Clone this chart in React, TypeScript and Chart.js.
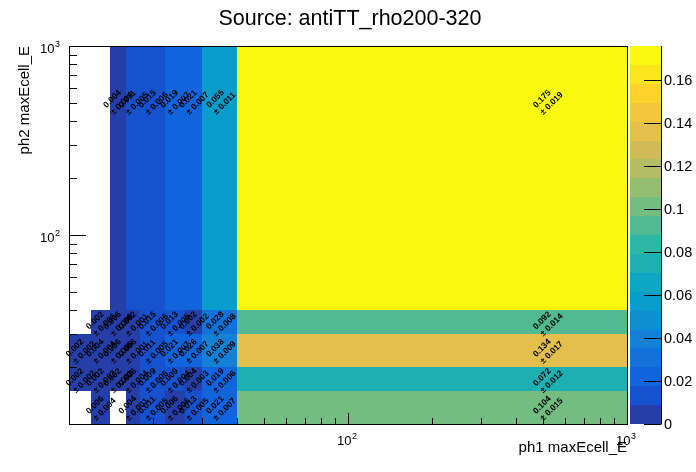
import React, { useEffect, useRef } from "react";
import { Chart, registerables } from "chart.js";

Chart.register(...registerables);

// ---- data ----
const titleText = "Source: antiTT_rho200-320";
const xTitle = "ph1 maxEcell_E";
const yTitle = "ph2 maxEcell_E";
const xEdges = [10, 12, 14, 16, 18, 22, 26, 30, 40, 1000];
const yEdges = [10, 15, 20, 30, 40, 1000];
// rows from bottom (y 10-15) to top (y 40-1000); columns follow xEdges
const val10to15 = [0, 0.006, 0, 0.004, 0.011, 0.006, 0.013, 0.021, 0.104];
const err10to15 = [0, 0.004, 0, 0.001, 0.005, 0.006, 0.005, 0.007, 0.015];
const val15to20 = [0.002, 0.002, 0.002, 0.006, 0.009, 0.009, 0.004, 0.019, 0.072];
const err15to20 = [0.002, 0.002, 0.002, 0.004, 0.006, 0.004, 0.003, 0.006, 0.012];
const val20to30 = [0.002, 0.004, 0.006, 0.006, 0.011, 0.021, 0.026, 0.038, 0.134];
const err20to30 = [0.002, 0.004, 0.006, 0.001, 0.005, 0.007, 0.007, 0.009, 0.017];
const val30to40 = [0, 0.002, 0.006, 0.002, 0.015, 0.013, 0.002, 0.028, 0.092];
const err30to40 = [0, 0.006, 0.006, 0.001, 0.006, 0.005, 0.002, 0.008, 0.014];
const val40to1000 = [0, 0, 0.004, 0.011, 0.015, 0.019, 0.021, 0.055, 0.175];
const err40to1000 = [0, 0, 0.004, 0.005, 0.006, 0.007, 0.007, 0.011, 0.019];
const values = [val10to15, val15to20, val20to30, val30to40, val40to1000];
const errors = [err10to15, err15to20, err20to30, err30to40, err40to1000];
const zMax = 0.176;
const nLevels = 20;
const zTicks = [0, 0.02, 0.04, 0.06, 0.08, 0.1, 0.12, 0.14, 0.16];
const xMajor = [10, 100, 1000];
const yMajor = [10, 100, 1000];

// ---- ROOT kBird palette ----
const birdStops = [0.0, 0.125, 0.25, 0.375, 0.5, 0.625, 0.75, 0.875, 1.0];
const birdR = [0.2082, 0.0592, 0.078, 0.0232, 0.1802, 0.5301, 0.8186, 0.9956, 0.9764];
const birdG = [0.1664, 0.3599, 0.5041, 0.6419, 0.7178, 0.7492, 0.7328, 0.7862, 0.9832];
const birdB = [0.5293, 0.8684, 0.8385, 0.7914, 0.6425, 0.4662, 0.3499, 0.1968, 0.0539];

function buildPalette(n: number): string[] {
  const pal: string[] = [];
  for (let g = 1; g < birdStops.length; g++) {
    const nc = Math.floor(n * birdStops[g]) - Math.floor(n * birdStops[g - 1]);
    for (let c = 0; c < nc; c++) {
      const r = birdR[g - 1] + (c * (birdR[g] - birdR[g - 1])) / nc;
      const gg = birdG[g - 1] + (c * (birdG[g] - birdG[g - 1])) / nc;
      const b = birdB[g - 1] + (c * (birdB[g] - birdB[g - 1])) / nc;
      pal.push(`rgb(${Math.round(r * 255)},${Math.round(gg * 255)},${Math.round(b * 255)})`);
    }
  }
  return pal;
}
const palette = buildPalette(255);
const levelColor = (i: number) =>
  palette[Math.min(palette.length - 1, Math.floor(((i + 0.99) * palette.length) / nLevels))];
const zLevel = (z: number) => Math.min(nLevels - 1, Math.floor((z / zMax) * nLevels));

const FONT = "'Liberation Sans', Arial, Helvetica, sans-serif";

function drawPow(ctx: CanvasRenderingContext2D, exp: string, x: number, baseline: number, align: "center" | "right") {
  ctx.font = `13px ${FONT}`;
  const w10 = ctx.measureText("10").width;
  ctx.font = `9px ${FONT}`;
  const wE = ctx.measureText(exp).width;
  const total = w10 + wE + 0.5;
  const left = align === "center" ? x - total / 2 : x - total;
  ctx.textAlign = "left";
  ctx.textBaseline = "alphabetic";
  ctx.font = `13px ${FONT}`;
  ctx.fillText("10", left, baseline);
  ctx.font = `9px ${FONT}`;
  ctx.fillText(exp, left + w10 + 0.5, baseline - 6.5);
}

const heatPlugin = {
  id: "rootHeat",
  beforeDatasetsDraw(chart: any) {
    const { ctx, scales } = chart;
    const xs = scales.x;
    const ys = scales.y;
    ctx.save();
    for (let r = 0; r < values.length; r++) {
      for (let c = 0; c < values[r].length; c++) {
        const v = values[r][c];
        if (v <= 0) continue;
        const x0 = Math.round(xs.getPixelForValue(xEdges[c]));
        const x1 = Math.round(xs.getPixelForValue(xEdges[c + 1]));
        const y0 = Math.round(ys.getPixelForValue(yEdges[r]));
        const y1 = Math.round(ys.getPixelForValue(yEdges[r + 1]));
        ctx.fillStyle = levelColor(zLevel(v));
        ctx.fillRect(x0, y1, x1 - x0, y0 - y1);
      }
    }
    ctx.restore();
  },
  afterDraw(chart: any) {
    const { ctx, scales, chartArea } = chart;
    const xs = scales.x;
    const ys = scales.y;
    const zs = scales.z;
    const { left, right, top, bottom } = chartArea;
    ctx.save();

    // cell texts
    ctx.fillStyle = "#000";
    ctx.font = `bold 8.5px ${FONT}`;
    for (let r = 0; r < values.length; r++) {
      for (let c = 0; c < values[r].length; c++) {
        const v = values[r][c];
        if (v <= 0) continue;
        const cx = xs.getPixelForValue((xEdges[c] + xEdges[c + 1]) / 2);
        const cy = ys.getPixelForValue((yEdges[r] + yEdges[r + 1]) / 2);
        const l1 = v.toFixed(3);
        const l2 = "\u00b1 " + errors[r][c].toFixed(3);
        const w = Math.max(ctx.measureText(l1).width, ctx.measureText(l2).width);
        ctx.save();
        ctx.translate(cx, cy);
        ctx.rotate(-Math.PI / 4);
        ctx.textAlign = "left";
        ctx.textBaseline = "middle";
        ctx.fillText(l1, -w / 2, -4.5);
        ctx.fillText(l2, -w / 2, 5.5);
        ctx.restore();
      }
    }

    // frame
    ctx.strokeStyle = "#000";
    ctx.lineWidth = 1;
    ctx.strokeRect(Math.round(left) + 0.5, Math.round(top) + 0.5, Math.round(right - left), Math.round(bottom - top));

    // x ticks
    ctx.beginPath();
    for (let d = 10; d < 1000; d *= 10) {
      for (let k = 1; k <= 10; k++) {
        const v = d * k;
        if (v > 1000) break;
        const px = Math.round(xs.getPixelForValue(v)) + 0.5;
        const len = k === 1 || k === 10 ? 11 : 6;
        ctx.moveTo(px, bottom);
        ctx.lineTo(px, bottom - len);
      }
    }
    // y ticks
    for (let d = 10; d < 1000; d *= 10) {
      for (let k = 1; k <= 10; k++) {
        const v = d * k;
        if (v > 1000) break;
        const py = Math.round(ys.getPixelForValue(v)) + 0.5;
        const len = k === 1 || k === 10 ? 17 : 8;
        ctx.moveTo(left, py);
        ctx.lineTo(left + len, py);
      }
    }
    ctx.stroke();

    // axis labels
    ctx.fillStyle = "#000";
    for (const m of xMajor) {
      if (m === 10) continue;
      const px = xs.getPixelForValue(m);
      drawPow(ctx, String(Math.round(Math.log10(m))), px - 1, bottom + 21, "center");
    }
    for (const m of yMajor) {
      if (m === 10) continue;
      const py = ys.getPixelForValue(m);
      drawPow(ctx, String(Math.round(Math.log10(m))), left - 9, py + 7, "right");
    }

    // axis titles
    ctx.font = `15px ${FONT}`;
    ctx.textAlign = "right";
    ctx.textBaseline = "alphabetic";
    ctx.fillText(xTitle, right, bottom + 28);
    ctx.save();
    ctx.translate(29, top);
    ctx.rotate(-Math.PI / 2);
    ctx.textAlign = "right";
    ctx.fillText(yTitle, 0, 0);
    ctx.restore();

    // colour bar
    const cbL = right + 3;
    const cbR = right + 34;
    for (let i = 0; i < nLevels; i++) {
      const ya = Math.round(zs.getPixelForValue((i * zMax) / nLevels));
      const yb = Math.round(zs.getPixelForValue(((i + 1) * zMax) / nLevels));
      ctx.fillStyle = levelColor(i);
      ctx.fillRect(cbL, yb, cbR - cbL, ya - yb);
    }
    ctx.beginPath();
    ctx.moveTo(cbR + 0.5, top);
    ctx.lineTo(cbR + 0.5, bottom + 0.5);
    for (const t of zTicks) {
      const py = Math.round(zs.getPixelForValue(t)) + 0.5;
      ctx.moveTo(cbR, py);
      ctx.lineTo(cbR - 17, py);
    }
    ctx.strokeStyle = "#000";
    ctx.stroke();
    ctx.fillStyle = "#000";
    ctx.font = `14.5px ${FONT}`;
    ctx.textAlign = "left";
    ctx.textBaseline = "middle";
    for (const t of zTicks) {
      const py = zs.getPixelForValue(t);
      ctx.fillText(String(t), cbR + 3, py + 1);
    }

    // title
    ctx.font = `21.5px ${FONT}`;
    ctx.textAlign = "center";
    ctx.textBaseline = "alphabetic";
    ctx.fillText(titleText, 350, 25);

    ctx.restore();
  },
};

export default function App() {
  const ref = useRef<HTMLCanvasElement | null>(null);
  useEffect(() => {
    document.body.style.margin = "0";
    const canvas = ref.current;
    if (!canvas) return;
    const chart = new Chart(canvas, {
      type: "scatter",
      data: { datasets: [{ data: [] }] },
      options: {
        responsive: false,
        animation: false,
        devicePixelRatio: 1,
        layout: { padding: { top: 46, right: 69, left: 0, bottom: 0 } },
        plugins: {
          legend: { display: false },
          tooltip: { enabled: false },
          title: { display: false },
        },
        scales: {
          x: {
            type: "logarithmic",
            min: 10,
            max: 1000,
            grid: { display: false },
            border: { display: false },
            ticks: { display: false },
            afterFit: (s: any) => {
              s.height = 48;
            },
          },
          y: {
            type: "logarithmic",
            min: 10,
            max: 1000,
            grid: { display: false },
            border: { display: false },
            ticks: { display: false },
            afterFit: (s: any) => {
              s.width = 69;
            },
          },
          z: {
            type: "linear",
            position: "right",
            min: 0,
            max: zMax,
            display: false,
          },
        },
      } as any,
      plugins: [heatPlugin],
    });
    return () => chart.destroy();
  }, []);
  return (
    <div style={{ width: 696, height: 472, background: "#fff" }}>
      <canvas ref={ref} width={696} height={472} />
    </div>
  );
}
